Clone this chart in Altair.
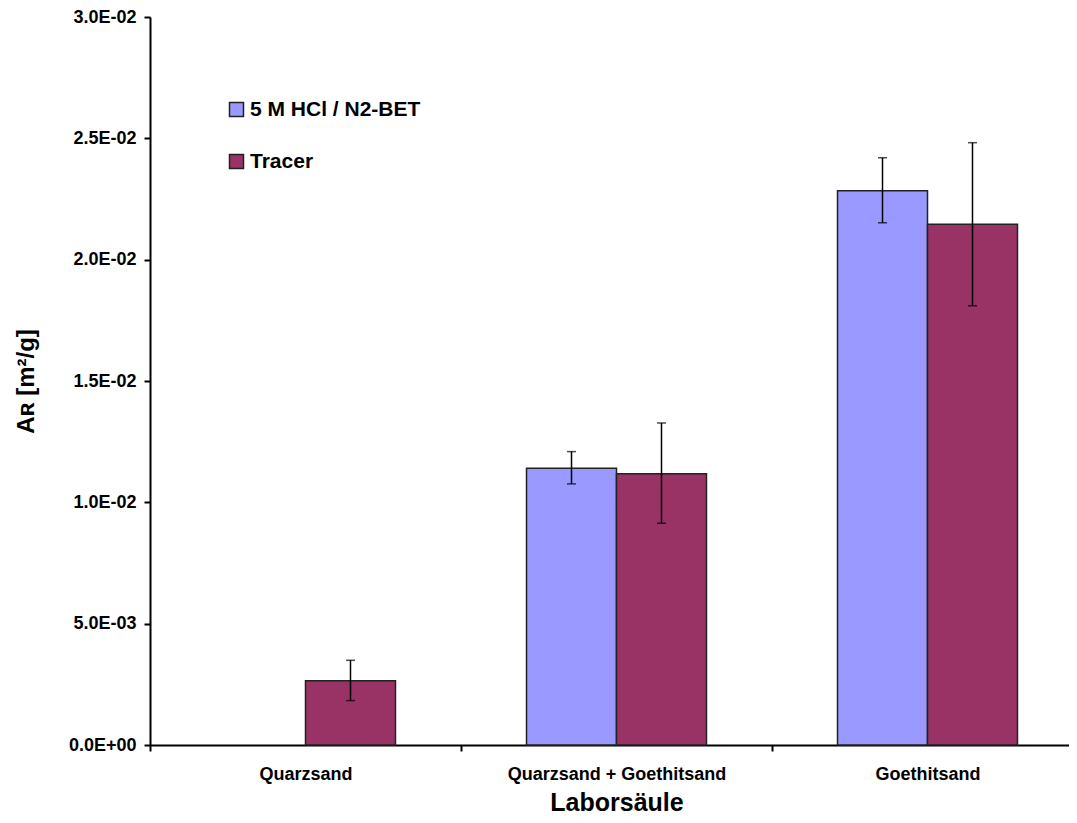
import altair as alt
import pandas as pd

categories = ["Quarzsand", "Quarzsand + Goethitsand", "Goethitsand"]
series = ["5 M HCl / N2-BET", "Tracer"]

bet_values = [None, 0.01140, 0.02284]
bet_low = [None, 0.01076, 0.02152]
bet_high = [None, 0.01209, 0.02420]

tracer_values = [0.00265, 0.01118, 0.02146]
tracer_low = [0.00183, 0.00914, 0.01810]
tracer_high = [0.00349, 0.01327, 0.02482]

y_ticks = [0.0, 0.005, 0.01, 0.015, 0.02, 0.025, 0.03]

rows = []
for i, c in enumerate(categories):
    if bet_values[i] is not None:
        rows.append({"cat": c, "series": series[0], "value": bet_values[i],
                     "low": bet_low[i], "high": bet_high[i]})
    rows.append({"cat": c, "series": series[1], "value": tracer_values[i],
                 "low": tracer_low[i], "high": tracer_high[i]})
df = pd.DataFrame(rows)

FONT = "Liberation Sans"

label_expr = (
    "datum.value == 0 ? '0.0E+00' : "
    "format(datum.value / pow(10, floor(log(datum.value)/LN10 + 1e-9)), '.1f') + 'E' + "
    "(floor(log(datum.value)/LN10 + 1e-9) < 0 ? '-' : '+') + "
    "(abs(floor(log(datum.value)/LN10 + 1e-9)) < 10 ? '0' : '') + "
    "abs(floor(log(datum.value)/LN10 + 1e-9))"
)

x_scale = alt.Scale(paddingInner=0, paddingOuter=0, range=[0, 933])

x_enc = alt.X(
    "cat:N",
    sort=categories,
    scale=x_scale,
    axis=alt.Axis(
        title="Laborsäule",
        titleFont=FONT, titleFontSize=25, titleFontWeight="bold", titlePadding=7,
        labelFont=FONT, labelFontSize=18, labelFontWeight="bold", labelPadding=14,
        labelAngle=0, labelColor="black", titleColor="black", labelLimit=500,
        tickBand="extent", tickSize=6, tickWidth=2, tickColor="black",
        domainColor="black", domainWidth=2,
    ),
)
xoff_enc = alt.XOffset(
    "series:N",
    sort=series,
    scale=alt.Scale(domain=series, paddingInner=0, paddingOuter=0.728),
)
y_scale = alt.Scale(domain=[0, 0.03], nice=False)

bars = alt.Chart(df).mark_bar(stroke="#222222", strokeWidth=1.5).encode(
    x=x_enc,
    xOffset=xoff_enc,
    y=alt.Y(
        "value:Q",
        scale=y_scale,
        axis=alt.Axis(
            title="Aʀ [m²/g]",
            titleFont=FONT, titleFontSize=24, titleFontWeight="bold", titlePadding=30,
            labelFont=FONT, labelFontSize=18, labelFontWeight="bold", labelPadding=8,
            labelColor="black", titleColor="black",
            values=y_ticks, labelExpr=label_expr, grid=False,
            tickSize=6, tickWidth=2, tickColor="black",
            domainColor="black", domainWidth=2,
        ),
    ),
    color=alt.Color(
        "series:N",
        sort=series,
        scale=alt.Scale(domain=series, range=["#9999FF", "#993366"]),
        legend=alt.Legend(
            title=None, orient="none", legendX=76, legendY=82,
            symbolType="square", symbolSize=196, symbolStrokeColor="#222222",
            symbolStrokeWidth=1.5, symbolOpacity=1,
            labelFont=FONT, labelFontSize=21, labelFontWeight="bold", labelColor="black",
            labelOffset=3, rowPadding=30, padding=0, labelLimit=400,
        ),
    ),
)

err = alt.Chart(df).mark_rule(color="black", strokeWidth=1.5).encode(
    x=alt.X("cat:N", sort=categories),
    xOffset=alt.XOffset("series:N", sort=series),
    y=alt.Y("low:Q", scale=y_scale),
    y2="high:Q",
)
cap_lo = alt.Chart(df).mark_tick(color="black", thickness=1.5, size=9).encode(
    x=alt.X("cat:N", sort=categories),
    xOffset=alt.XOffset("series:N", sort=series),
    y=alt.Y("low:Q", scale=y_scale),
)
cap_hi = alt.Chart(df).mark_tick(color="black", thickness=1.5, size=9).encode(
    x=alt.X("cat:N", sort=categories),
    xOffset=alt.XOffset("series:N", sort=series),
    y=alt.Y("high:Q", scale=y_scale),
)

chart = alt.layer(bars, err, cap_lo, cap_hi).properties(
    width=919, height=728,
    autosize=alt.AutoSizeParams(type="none"),
    padding={"left": 142, "top": 9, "right": 0, "bottom": 70},
    background="white",
).configure_view(stroke=None)

chart.save("out.html", embed_options={"renderer": "svg", "actions": False})
